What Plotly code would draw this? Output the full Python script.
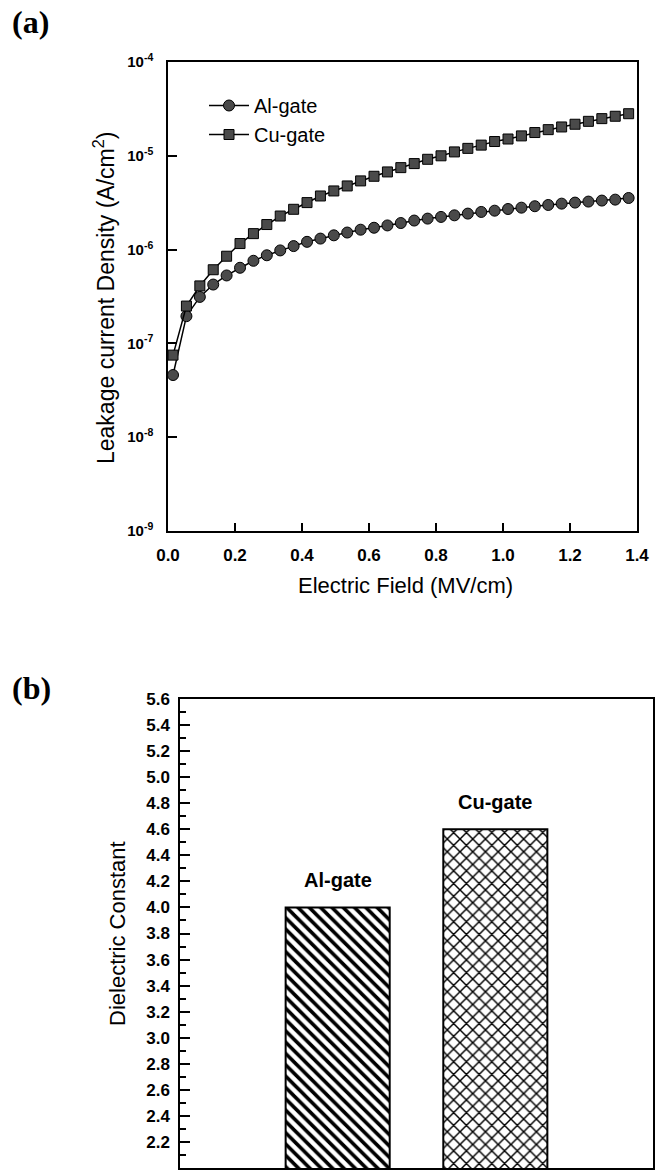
import plotly.graph_objects as go

# ---------------- data ----------------
field = [0.015, 0.055, 0.095, 0.135, 0.175, 0.215, 0.255, 0.295, 0.335, 0.375,
         0.415, 0.455, 0.495, 0.535, 0.575, 0.615, 0.655, 0.695, 0.735, 0.775,
         0.815, 0.855, 0.895, 0.935, 0.975, 1.015, 1.055, 1.095, 1.135, 1.175,
         1.215, 1.255, 1.295, 1.335, 1.375]
al_gate = [4.6e-8, 1.95e-7, 3.13e-7, 4.24e-7, 5.3e-7, 6.4e-7, 7.6e-7, 8.7e-7, 9.8e-7, 1.09e-6,
           1.21e-6, 1.31e-6, 1.42e-6, 1.52e-6, 1.63e-6, 1.71e-6, 1.81e-6, 1.92e-6, 2.04e-6, 2.14e-6,
           2.23e-6, 2.32e-6, 2.42e-6, 2.52e-6, 2.60e-6, 2.71e-6, 2.80e-6, 2.90e-6, 2.99e-6, 3.09e-6,
           3.17e-6, 3.25e-6, 3.33e-6, 3.41e-6, 3.55e-6]
cu_gate = [7.5e-8, 2.5e-7, 4.1e-7, 6.1e-7, 8.5e-7, 1.16e-6, 1.48e-6, 1.85e-6, 2.28e-6, 2.69e-6,
           3.17e-6, 3.73e-6, 4.22e-6, 4.77e-6, 5.40e-6, 6.05e-6, 6.73e-6, 7.48e-6, 8.26e-6, 9.18e-6,
           1.00e-5, 1.10e-5, 1.20e-5, 1.30e-5, 1.42e-5, 1.51e-5, 1.63e-5, 1.77e-5, 1.90e-5, 2.03e-5,
           2.17e-5, 2.33e-5, 2.49e-5, 2.64e-5, 2.81e-5]

log_tickvals = [1e-9, 1e-8, 1e-7, 1e-6, 1e-5, 1e-4]
log_ticktext = ["10<sup>-9</sup>", "10<sup>-8</sup>", "10<sup>-7</sup>",
                "10<sup>-6</sup>", "10<sup>-5</sup>", "10<sup>-4</sup>"]

gates = ["Al-gate", "Cu-gate"]
dielectric = [4.0, 4.6]
patterns = ["\\", "x"]

# ---------------- figure ----------------
W, H = 657, 1173
SANS = "Liberation Sans, Arial, sans-serif"
SERIF = "Liberation Serif, Times New Roman, serif"

def px_x(p):
    return p / W

def px_y(p):
    return 1 - p / H

fig = go.Figure()

fig.add_trace(go.Scatter(
    x=field, y=al_gate, name="Al-gate", mode="lines+markers",
    line=dict(color="black", width=1.5),
    marker=dict(symbol="circle", size=11, color="#4a4a4a", line=dict(color="black", width=1)),
    xaxis="x", yaxis="y"))
fig.add_trace(go.Scatter(
    x=field, y=cu_gate, name="Cu-gate", mode="lines+markers",
    line=dict(color="black", width=1.5),
    marker=dict(symbol="square", size=10, color="#4a4a4a", line=dict(color="black", width=1)),
    xaxis="x", yaxis="y"))

fig.add_trace(go.Bar(
    x=gates, y=dielectric, width=0.66, showlegend=False,
    marker=dict(color="white", line=dict(color="black", width=2),
                pattern=dict(shape=patterns, fgcolor="black", bgcolor="white", fgopacity=1,
                             size=[8, 9], solidity=[0.45, 0.3])),
    xaxis="x2", yaxis="y2"))

axis_common = dict(showline=True, linecolor="black", linewidth=1.5, mirror=True,
                   showgrid=False, zeroline=False, automargin=False)

fig.update_layout(
    width=W, height=H,
    margin=dict(l=0, r=0, t=0, b=0),
    paper_bgcolor="white", plot_bgcolor="white",
    font=dict(family=SANS, color="black"),
    xaxis=dict(domain=[px_x(168), px_x(637)], anchor="y", range=[0, 1.4],
               tickmode="linear", tick0=0, dtick=0.2, tickformat=".1f",
               ticks="inside", ticklen=8, tickwidth=1.5, tickcolor="black",
               ticklabelstandoff=8,
               tickfont=dict(size=17, family=SANS, weight="bold"), **axis_common),
    yaxis=dict(domain=[px_y(531), px_y(62)], anchor="x", type="log", range=[-9, -4],
               tickvals=log_tickvals, ticktext=log_ticktext,
               ticks="inside", ticklen=9, tickwidth=1.5, tickcolor="black",
               ticklabelstandoff=10,
               tickfont=dict(size=15, family=SANS, weight="bold"), **axis_common),
    xaxis2=dict(domain=[px_x(180), px_x(653)], anchor="y2", range=[-1.0, 2.0],
                type="category", showticklabels=False, ticks="", **axis_common),
    yaxis2=dict(domain=[px_y(1168), px_y(699)], anchor="x2", range=[2.0, 5.6],
                tickmode="linear", tick0=2.0, dtick=0.2, tickformat=".1f",
                ticks="inside", ticklen=10, tickwidth=1.5, tickcolor="black",
                minor=dict(dtick=0.1, ticks="inside", ticklen=6, tickwidth=1.5, tickcolor="black"),
                ticklabelstandoff=5,
                tickfont=dict(size=17, family=SANS, weight="bold"), **axis_common),
    legend=dict(x=px_x(204), y=px_y(86), xanchor="left", yanchor="top",
                bgcolor="rgba(0,0,0,0)", borderwidth=0,
                font=dict(size=20, family=SANS), tracegroupgap=0, itemwidth=40),
    showlegend=True,
)

annotations = [
    dict(text="<b>(a)</b>", x=px_x(10), y=px_y(22), xref="paper", yref="paper",
         xanchor="left", yanchor="middle", showarrow=False,
         font=dict(size=32, family=SERIF)),
    dict(text="<b>(b)</b>", x=px_x(10), y=px_y(688), xref="paper", yref="paper",
         xanchor="left", yanchor="middle", showarrow=False,
         font=dict(size=32, family=SERIF)),
    dict(text="Electric Field (MV/cm)", x=px_x(405), y=px_y(585), xref="paper", yref="paper",
         xanchor="center", yanchor="middle", showarrow=False,
         font=dict(size=22, family=SANS)),
    dict(text="Leakage current Density (A/cm<sup>2</sup>)", x=px_x(104), y=px_y(298),
         xref="paper", yref="paper", xanchor="center", yanchor="middle",
         textangle=-90, showarrow=False, font=dict(size=23, family=SANS)),
    dict(text="Dielectric Constant", x=px_x(117), y=px_y(934),
         xref="paper", yref="paper", xanchor="center", yanchor="middle",
         textangle=-90, showarrow=False, font=dict(size=22, family=SANS)),
]
for g, v in zip(gates, dielectric):
    annotations.append(dict(text="<b>%s</b>" % g, x=g, y=v, xref="x2", yref="y2",
                            xanchor="center", yanchor="bottom", yshift=14,
                            showarrow=False, font=dict(size=20, family=SANS)))
fig.update_layout(annotations=annotations)

fig.write_html("out.html", config={"displayModeBar": False},
               post_script="document.body.style.margin='0';document.body.style.overflow='hidden';")
